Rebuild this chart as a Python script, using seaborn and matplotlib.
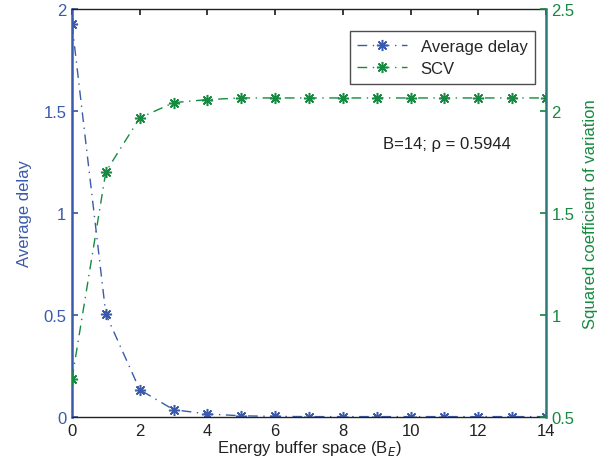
import numpy as np
import pandas as pd
import matplotlib
matplotlib.use("Agg")
import matplotlib.pyplot as plt
import seaborn as sns

buffer_space = [0, 1, 2, 3, 4, 5, 6, 7, 8, 9, 10, 11, 12, 13, 14]
avg_delay = [1.926, 0.505, 0.134, 0.036, 0.015, 0.006, 0.003, 0.002, 0.002, 0.002, 0.002, 0.002, 0.002, 0.002, 0.002]
scv = [0.686, 1.702, 1.966, 2.041, 2.056, 2.064, 2.064, 2.064, 2.064, 2.064, 2.064, 2.064, 2.064, 2.064, 2.064]

df = pd.DataFrame({"BE": buffer_space, "delay": avg_delay, "scv": scv})

sns.set_theme(style="white")
plt.rcParams['font.family'] = ['Liberation Sans', 'DejaVu Sans']

BLUE = "#3a5bab"
GREEN = "#168a40"
TEAL = "#2a7a7a"
DASH = (0, (7, 4, 1, 4))

fig = plt.figure(figsize=(6.11, 4.64), dpi=100)
ax = fig.add_axes([0.1178, 0.0991, 0.7758, 0.8793])
ax2 = ax.twinx()

sns.lineplot(data=df, x="BE", y="delay", ax=ax, color=BLUE, marker=(8, 2, 0),
             markersize=8, markeredgewidth=1.1, markeredgecolor=BLUE,
             linestyle=DASH, linewidth=1.0, label="Average delay", legend=False)
sns.lineplot(data=df, x="BE", y="scv", ax=ax2, color=GREEN, marker=(8, 2, 0),
             markersize=8, markeredgewidth=1.1, markeredgecolor=GREEN,
             linestyle=DASH, linewidth=1.0, label="SCV", legend=False)

ax.set_xlim(0, 14)
ax.set_ylim(0, 2)
ax2.set_ylim(0.5, 2.5)
ax.set_xticks(range(0, 15, 2))
ax.set_yticks([0, 0.5, 1, 1.5, 2])
ax.set_yticklabels(["0", "0.5", "1", "1.5", "2"])
ax2.set_yticks([0.5, 1, 1.5, 2, 2.5])
ax2.set_yticklabels(["0.5", "1", "1.5", "2", "2.5"])

ax.set_xlabel("Energy buffer space (B$_E$)", fontsize=12, color="#222222", labelpad=0)
ax.set_ylabel("Average delay", fontsize=12, color=BLUE, labelpad=8)
ax2.set_ylabel("Squared coefficient of variation", fontsize=12, color=GREEN, labelpad=6)

ax.tick_params(axis="x", direction="in", length=4, colors="#222222", labelsize=12, pad=4, top=True)
ax.tick_params(axis="y", direction="in", length=4, colors=BLUE, labelsize=12, pad=4)
ax2.tick_params(axis="y", direction="in", length=4, colors=GREEN, labelsize=12, pad=4)

for s in ["top", "bottom"]:
    ax.spines[s].set_color("#222222")
    ax.spines[s].set_linewidth(1.0)
ax.spines["left"].set_color(BLUE)
ax.spines["left"].set_linewidth(1.8)
ax2.spines["left"].set_visible(False)
ax2.spines["right"].set_color(TEAL)
ax2.spines["right"].set_linewidth(1.8)
ax.spines["right"].set_visible(False)
ax2.spines["top"].set_visible(False)
ax2.spines["bottom"].set_visible(False)

h1, l1 = ax.get_legend_handles_labels()
h2, l2 = ax2.get_legend_handles_labels()
leg = ax2.legend(h1 + h2, l1 + l2, loc="upper right", bbox_to_anchor=(0.977, 0.946),
                 fontsize=12, frameon=True, fancybox=False, edgecolor="#222222",
                 handlelength=3.0, borderpad=0.45, labelspacing=0.45, borderaxespad=0)
leg.get_frame().set_linewidth(1.0)

ax2.text(9.2, 1.84, "B=14; \u03c1 = 0.5944", fontsize=12, color="#222222", va="center")

fig.savefig("out.png", dpi=100)
